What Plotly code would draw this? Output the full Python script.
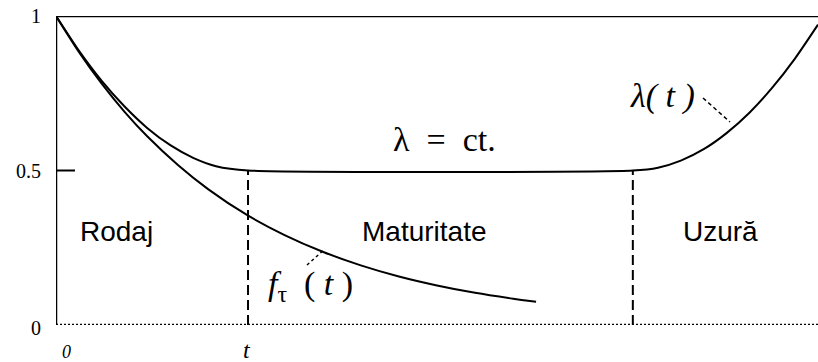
import plotly.graph_objects as go

# Hazard rate lambda(t): bathtub curve (run-in, maturity, wear-out)
lam_t = [0.0, 0.03, 0.06, 0.09, 0.12, 0.15, 0.18, 0.21, 0.252,
         0.757, 0.79, 0.82, 0.85, 0.88, 0.91, 0.94, 0.97, 1.0]
lam_v = [1.0, 0.888, 0.790, 0.707, 0.637, 0.582, 0.541, 0.514, 0.5,
         0.5, 0.509, 0.532, 0.569, 0.621, 0.687, 0.768, 0.863, 0.972]

# Density f_tau(t)
f_t = [0.0, 0.03, 0.06, 0.09, 0.12, 0.16, 0.2, 0.25, 0.3, 0.35,
       0.4, 0.45, 0.5, 0.55, 0.6, 0.63]
f_v = [1.0, 0.884, 0.781, 0.690, 0.610, 0.518, 0.439, 0.357, 0.291, 0.237,
       0.193, 0.157, 0.128, 0.104, 0.085, 0.075]

# Phase boundaries
t_bounds = [0.252, 0.757]
lam_const = 0.5

y_ticks = [0, 0.5, 1]
y_tick_text = ["0", "0.5", "1"]

phases = ["Rodaj", "Maturitate", "Uzură"]
phase_px = [116, 424, 720]

W, H = 818, 362
L, R, T, B = 56, 0, 16, 37
PW, PH = W - L - R, H - T - B

def px_x(px):
    return (px - L) / PW

def px_y(py):
    return (H - B - py) / PH

fig = go.Figure()
fig.add_trace(go.Scatter(x=lam_t, y=lam_v, mode="lines",
                         line=dict(color="black", width=2, shape="spline", smoothing=0.6),
                         cliponaxis=False, showlegend=False, hoverinfo="skip"))
fig.add_trace(go.Scatter(x=f_t, y=f_v, mode="lines",
                         line=dict(color="black", width=2, shape="spline", smoothing=0.6),
                         cliponaxis=False, showlegend=False, hoverinfo="skip"))

shapes = [
    # frame: left, top, bottom (dotted)
    dict(type="line", xref="x", yref="y", x0=0, x1=0, y0=0, y1=1,
         line=dict(color="black", width=2.5)),
    dict(type="line", xref="x", yref="y", x0=0, x1=1, y0=1, y1=1,
         line=dict(color="black", width=2.5)),
    dict(type="line", xref="x", yref="y", x0=0, x1=1, y0=0, y1=0,
         line=dict(color="black", width=2.5, dash="2px,2px")),
    # inward tick at 0.5
    dict(type="line", xref="x", yref="y", x0=0, x1=px_x(75), y0=0.5, y1=0.5,
         line=dict(color="black", width=2)),
]
for tb in t_bounds:
    shapes.append(dict(type="line", xref="x", yref="y", x0=tb, x1=tb,
                       y0=0, y1=lam_const,
                       line=dict(color="black", width=2, dash="10px,5px")))
# leader lines for curve labels
shapes.append(dict(type="line", xref="x", yref="y",
                   x0=px_x(703), y0=px_y(98), x1=px_x(730), y1=px_y(122),
                   line=dict(color="black", width=1.5, dash="4px,3px")))
shapes.append(dict(type="line", xref="x", yref="y",
                   x0=px_x(307), y0=px_y(265), x1=px_x(325), y1=px_y(249),
                   line=dict(color="black", width=1.5, dash="3px,3px")))

serif = "Liberation Serif"
ann = []

def label(px, py, text, size, family=serif, xanchor="center", xshift=0):
    ann.append(dict(x=px_x(px), y=px_y(py), xref="paper", yref="paper",
                    text=text, showarrow=False, xanchor=xanchor, yanchor="middle",
                    xshift=xshift,
                    font=dict(family=family, size=size, color="black")))

for v, s in zip(y_ticks, y_tick_text):
    py = (H - B) - v * PH + (3 if v == 0 else 0)
    label(L, py, s, 20, xanchor="right", xshift=-13)
# x-axis labels below the dotted baseline
label(66, 352, "<i>0</i>", 18)
label(247, 350, "<i>t</i>", 24)
for name, px in zip(phases, phase_px):
    label(px, 231, name, 28, family="Liberation Sans")
label(444, 139, "λ  =  ct.", 34)
label(662, 96, "<i>λ( t )</i>", 34)
label(310, 286, "<i>f</i><sub>τ</sub>  (<i> t </i>)", 34)

fig.update_layout(
    width=W, height=H,
    margin=dict(l=L, r=R, t=T, b=B),
    paper_bgcolor="white", plot_bgcolor="white",
    xaxis=dict(range=[0, 1], visible=False, fixedrange=True),
    yaxis=dict(range=[0, 1], visible=False, fixedrange=True),
    shapes=shapes, annotations=ann,
)

fig.write_html("out.html")
